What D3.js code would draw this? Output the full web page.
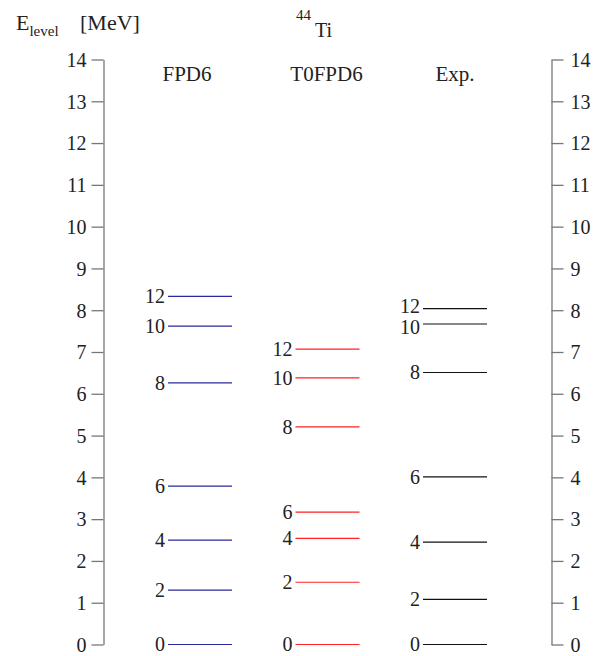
<!DOCTYPE html>
<html lang="en">
<head>
    <meta charset="UTF-8">
    <title>44Ti level scheme</title>
    <script src="https://d3js.org/d3.v7.min.js"></script>
    <style>
        body {
            margin: 0;
            background: #fff;
        }

        .axis path, .axis line {
            fill: none;
            stroke: #777;
            stroke-width: 1.3;
        }
    </style>
</head>
<body>
    <svg></svg>

    <script>
        // level energies in MeV, one entry per spin
        const models = ["FPD6", "T0FPD6", "Exp."];
        const spins = [0, 2, 4, 6, 8, 10, 12];
        const fpd6 = [0, 1.30, 2.50, 3.79, 6.26, 7.62, 8.33];
        const t0fpd6 = [0, 1.49, 2.54, 3.17, 5.21, 6.38, 7.07];
        const expLevels = [0, 1.08, 2.45, 4.01, 6.51, 7.67, 8.04];
        const yTicks = d3.range(0, 15);
        const colors = ["#2a2a9c", "#ff2020", "#111"];

        const series = [fpd6, t0fpd6, expLevels];
        const serif = "Liberation Serif";

        const width = 608, height = 656;
        const svg = d3.select("svg")
            .attr("width", width)
            .attr("height", height)
            .style("font-family", serif);

        const y = d3.scaleLinear().domain([0, 14]).range([644.5, 59.5]);
        const x = d3.scalePoint().domain(models).range([200, 455]);
        const halfLen = 32;

        // axes
        svg.append("g")
            .attr("class", "axis")
            .attr("transform", "translate(103.5,0)")
            .call(d3.axisLeft(y).tickValues(yTicks).tickSize(12).tickPadding(5).tickSizeOuter(0));

        svg.append("g")
            .attr("class", "axis")
            .attr("transform", "translate(551.5,0)")
            .call(d3.axisRight(y).tickValues(yTicks).tickSize(12).tickPadding(7).tickSizeOuter(0));

        svg.selectAll(".axis")
            .attr("font-family", null)
            .attr("font-size", 20);
        svg.selectAll(".axis text").attr("dy", "0.34em").attr("fill", "#222");

        // column headers
        const headerShift = { "FPD6": -13, "T0FPD6": -1, "Exp.": 0 };
        svg.selectAll(".header")
            .data(models)
            .enter().append("text")
            .attr("class", "header")
            .attr("x", d => x(d) + headerShift[d])
            .attr("y", 81)
            .attr("text-anchor", "middle")
            .attr("font-size", 21)
            .attr("fill", "#222")
            .text(d => d);

        // levels
        models.forEach((m, i) => {
            const levels = spins.map((s, j) => ({ spin: s, e: series[i][j] }));
            const g = svg.append("g");

            g.selectAll("line")
                .data(levels)
                .enter().append("line")
                .attr("x1", x(m) - halfLen)
                .attr("x2", x(m) + halfLen)
                .attr("y1", d => y(d.e))
                .attr("y2", d => y(d.e))
                .attr("stroke", colors[i])
                .attr("stroke-width", 1.2);

            // push apart labels that would overlap
            const ly = levels.map(d => y(d.e));
            for (let k = 1; k < ly.length; k++) {
                const gap = ly[k - 1] - ly[k];
                if (gap < 21) {
                    const push = (21 - gap) / 2;
                    ly[k - 1] += push;
                    ly[k] -= push;
                }
            }

            g.selectAll("text")
                .data(levels)
                .enter().append("text")
                .attr("x", x(m) - halfLen - 3)
                .attr("y", (d, k) => ly[k])
                .attr("dy", "0.34em")
                .attr("text-anchor", "end")
                .attr("font-size", 20)
                .attr("fill", "#222")
                .text(d => d.spin);
        });

        // y label
        const yl = svg.append("text")
            .attr("x", 16)
            .attr("y", 30)
            .attr("font-size", 22)
            .attr("fill", "#222");
        yl.append("tspan").text("E");
        yl.append("tspan").attr("dy", 6).attr("font-size", 15).text("level");
        yl.append("tspan").attr("x", 80).attr("dy", -6).text("[MeV]");

        // nucleus
        const nuc = svg.append("text")
            .attr("x", 296)
            .attr("y", 20)
            .attr("font-size", 15)
            .attr("fill", "#222");
        nuc.append("tspan").text("44");
        nuc.append("tspan").attr("x", 315).attr("dy", 17).attr("font-size", 20).text("Ti");
    </script>
</body>
</html>
